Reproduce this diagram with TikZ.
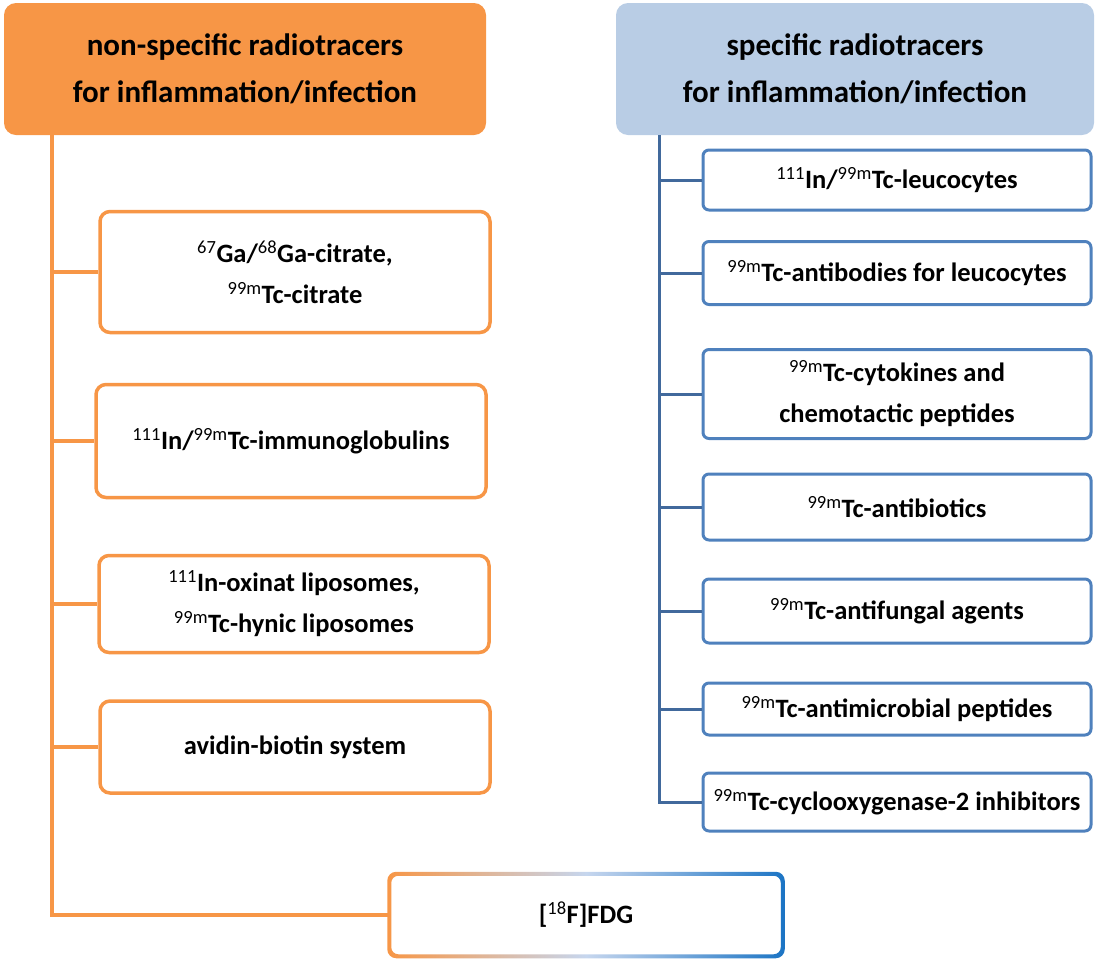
\documentclass[tikz,border=0pt]{standalone}
\usepackage{fontspec}
\setmainfont{Carlito}
\usetikzlibrary{positioning}
\definecolor{nsorange}{HTML}{F79646}
\definecolor{spfill}{HTML}{B9CDE5}
\definecolor{spborder}{HTML}{4F81BD}
\definecolor{spline}{HTML}{41699C}
\definecolor{fdgmid}{HTML}{C6D6EE}
\definecolor{fdgblue}{HTML}{1B74C4}
\newcommand{\iso}[1]{\textsuperscript{\mdseries #1}}

\begin{document}
\begin{tikzpicture}[x=1pt,y=-1pt,
	headbox/.style={rounded corners=12pt,align=center,inner sep=0pt,font=\bfseries\fontsize{31}{47}\selectfont},
	nsbox/.style={draw=nsorange,line width=3.5pt,rounded corners=10pt,fill=white,align=center,minimum width=390pt,inner sep=2pt,font=\bfseries\fontsize{26.5}{41}\selectfont},
	spbox/.style={draw=spborder,line width=3pt,rounded corners=6pt,fill=white,align=center,minimum width=388pt,inner sep=2pt,font=\bfseries\fontsize{26.5}{41}\selectfont},
	nslink/.style={draw=nsorange,line width=3.5pt},
	splink/.style={draw=spline,line width=3pt}]
	\useasboundingbox (0,0) rectangle (1097,959);
	\node[headbox,fill=nsorange,minimum width=482pt,minimum height=132pt] (nonspec) at (245,69) {non-specific radiotracers\\for inflammation/infection};
	\node[headbox,fill=spfill,minimum width=478pt,minimum height=132pt] (spec) at (855,69) {specific radiotracers\\for inflammation/infection};
	% non-specific
	\node[nsbox,minimum height=121pt] (ga) at (295,272) {\iso{67}Ga/\iso{68}Ga-citrate,\\\iso{99m}Tc-citrate};
	\node[nsbox,minimum height=113pt] (igg) at (291,441) {\iso{111}In/\iso{99m}Tc-immunoglobulins};
	\node[nsbox,minimum height=97pt] (lipo) at (294,604) {\iso{111}In-oxinat liposomes,\\\iso{99m}Tc-hynic liposomes};
	\node[nsbox,minimum height=92pt] (avidin) at (295,747) {avidin-biotin system};
	\node[nsbox,draw=none,minimum height=79pt] (fdg) at (586,915) {[\iso{18}F]FDG};
	\shade[even odd rule,left color=nsorange,right color=fdgblue,middle color=fdgmid,rounded corners=9pt]
		([shift={(-2,2)}]fdg.south west) rectangle ([shift={(2,-2)}]fdg.north east)
		[rounded corners=7pt] ([shift={(2,-2)}]fdg.south west) rectangle ([shift={(-2,2)}]fdg.north east);
	% specific
	\node[spbox,minimum height=60pt] (leuco) at (897,180) {\iso{111}In/\iso{99m}Tc-leucocytes};
	\node[spbox,minimum height=63pt] (antib) at (897,273) {\iso{99m}Tc-antibodies for leucocytes};
	\node[spbox,minimum height=89pt] (cyto) at (897,394) {\iso{99m}Tc-cytokines and\\chemotactic peptides};
	\node[spbox,minimum height=66pt] (abio) at (897,507) {\iso{99m}Tc-antibiotics};
	\node[spbox,minimum height=64pt] (fungal) at (897,611) {\iso{99m}Tc-antifungal agents};
	\node[spbox,minimum height=52pt] (amp) at (897,709) {\iso{99m}Tc-antimicrobial peptides};
	\node[spbox,minimum height=58pt] (cox) at (897,802) {\iso{99m}Tc-cyclooxygenase-2 inhibitors};
	\coordinate (ltrunk) at ([xshift=48pt]nonspec.south west);
	\coordinate (rtrunk) at ([xshift=44pt]spec.south west);
	\draw[nslink] (ltrunk) |- (fdg.west);
	\foreach \n in {ga,igg,lipo,avidin}
		\draw[nslink] (ltrunk |- \n.west) -- (\n.west);
	\draw[splink] (rtrunk) |- (cox.west);
	\foreach \n in {leuco,antib,cyto,abio,fungal,amp}
		\draw[splink] (rtrunk |- \n.west) -- (\n.west);
\end{tikzpicture}
\end{document}
